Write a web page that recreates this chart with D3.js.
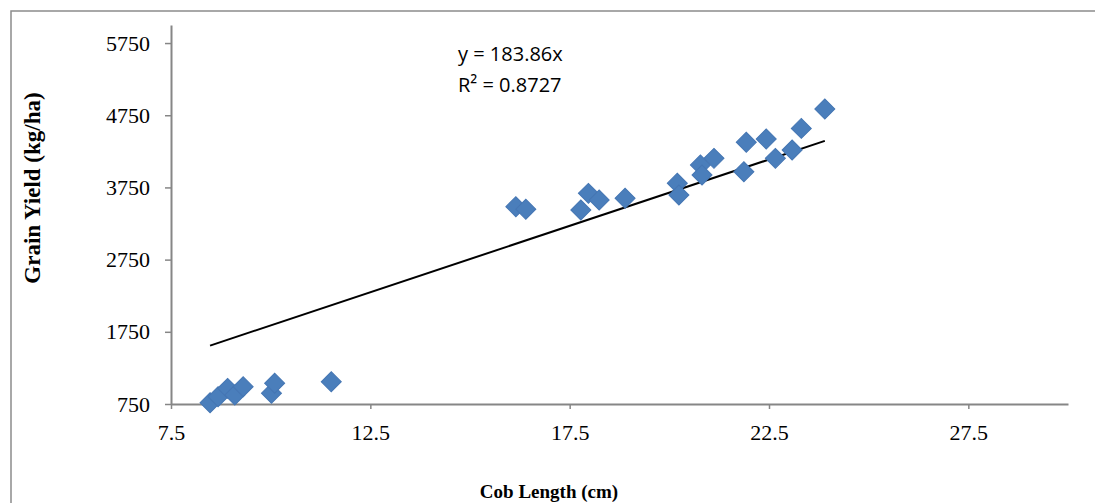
<!DOCTYPE html>
<html>
<head>
<meta charset="utf-8">
<script src="https://cdn.jsdelivr.net/npm/d3@7"></script>
<style>
  body { margin: 0; background: #fff; }
</style>
</head>
<body>
<script>
// cob length (cm) and grain yield (kg/ha)
var cobLength = [8.48, 8.68, 8.92, 9.10, 9.31, 10.02, 10.10, 11.52,
  16.15, 16.40, 17.78, 17.97, 18.24, 18.89,
  20.20, 20.24, 20.78, 20.82, 21.12, 21.87, 21.93, 22.43, 22.66, 23.08, 23.31, 23.90];
var grainYield = [768, 851, 967, 875, 990, 898, 1037, 1059,
  3483, 3447, 3437, 3668, 3575, 3599,
  3807, 3645, 4060, 3922, 4153, 3967, 4375, 4420, 4153, 4268, 4568, 4836];
var xTicks = [7.5, 12.5, 17.5, 22.5, 27.5];
var yTicks = [750, 1750, 2750, 3750, 4750, 5750];
var slope = 183.86;
var equation = ["y = 183.86x", "R\u00b2 = 0.8727"];

var width = 1095, height = 503;
var margin = {left: 171, right: 27, top: 25, bottom: 99};
var serif = "'Liberation Serif', 'Times New Roman', serif";

var svg = d3.select("body").append("svg")
  .attr("width", width)
  .attr("height", height);

// outer frame (only top and left visible in the picture)
svg.append("rect")
  .attr("x", 11).attr("y", 11)
  .attr("width", width + 20).attr("height", height + 20)
  .attr("fill", "none")
  .attr("stroke", "#8c8c8c")
  .attr("stroke-width", 1.5);

var x = d3.scaleLinear().domain([7.5, 30]).range([margin.left, width - margin.right]);
var y = d3.scaleLinear().domain([750, 6000]).range([height - margin.bottom, margin.top]);

var xAxis = svg.append("g")
  .attr("transform", "translate(0," + y(750) + ")")
  .call(d3.axisBottom(x).tickValues(xTicks).tickSize(5).tickSizeOuter(0).tickPadding(15)
    .tickFormat(d3.format(".1f")));

var yAxis = svg.append("g")
  .attr("transform", "translate(" + x(7.5) + ",0)")
  .call(d3.axisLeft(y).tickValues(yTicks).tickSize(6).tickSizeOuter(0).tickPadding(15)
    .tickFormat(d3.format("d")));

[xAxis, yAxis].forEach(function(g){
  g.select(".domain").attr("stroke", "#868686").attr("stroke-width", 2);
  g.selectAll(".tick line").attr("stroke", "#868686").attr("stroke-width", 1.5);
  g.selectAll("text")
    .attr("fill", "#000")
    .style("font-family", serif)
    .style("font-size", "22px");
});

// trend line through origin, drawn over data range
var xr = d3.extent(cobLength);
svg.append("line")
  .attr("x1", x(xr[0])).attr("y1", y(slope * xr[0]))
  .attr("x2", x(xr[1])).attr("y2", y(slope * xr[1]))
  .attr("stroke", "#000")
  .attr("stroke-width", 2);

// diamond markers
var diamond = d3.symbol().type(d3.symbolSquare).size(200);
svg.selectAll("path.pt")
  .data(cobLength)
  .enter()
  .append("path")
  .attr("class", "pt")
  .attr("d", diamond)
  .attr("transform", function(d, i){
    return "translate(" + x(d) + "," + y(grainYield[i]) + ") rotate(45)";
  })
  .attr("fill", "#4a7ebb")
  .attr("stroke", "#4576b3")
  .attr("stroke-width", 1);

// equation text
svg.selectAll("text.eq")
  .data(equation)
  .enter()
  .append("text")
  .attr("class", "eq")
  .attr("x", 458)
  .attr("y", function(d, i){ return 61 + i * 31; })
  .style("font-family", "'Open Sans', 'Noto Sans', sans-serif")
  .style("font-size", "20px")
  .attr("fill", "#000")
  .text(function(d){ return d; });

// axis titles
svg.append("text")
  .attr("x", 549)
  .attr("y", 498)
  .attr("text-anchor", "middle")
  .style("font-family", serif)
  .style("font-size", "19px")
  .style("font-weight", "bold")
  .text("Cob Length (cm)");

svg.append("text")
  .attr("transform", "translate(40," + 188 + ") rotate(-90)")
  .attr("text-anchor", "middle")
  .style("font-family", serif)
  .style("font-size", "23px")
  .style("font-weight", "bold")
  .text("Grain Yield (kg/ha)");
</script>
</body>
</html>
